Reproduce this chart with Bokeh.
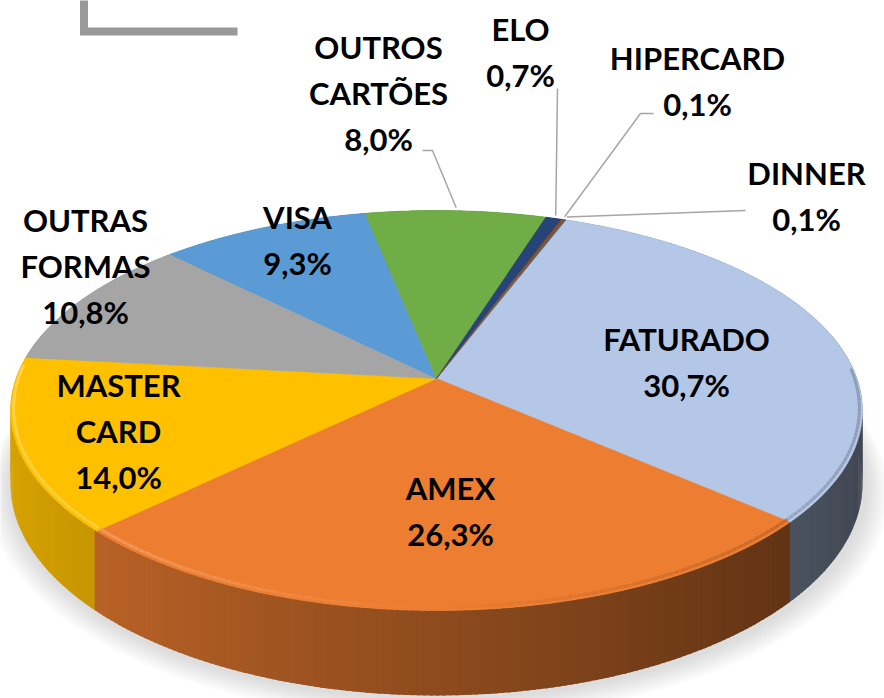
import numpy as np
from bokeh.plotting import figure
from bokeh.models import Range1d
from bokeh.embed import file_html
from bokeh.resources import INLINE
from bokeh.core.properties import value

# ---------------- data ----------------
categories = ["FATURADO", "AMEX", "MASTER\nCARD", "OUTRAS\nFORMAS", "VISA",
              "OUTROS\nCARTÕES", "ELO", "HIPERCARD", "DINNER"]
shares = [30.7, 26.3, 14.0, 10.8, 9.3, 8.0, 0.7, 0.1, 0.1]
colors = ["#B4C7E7", "#ED7D31", "#FFC000", "#A5A5A5", "#5B9BD5",
          "#70AD47", "#264478", "#9E480E", "#636363"]

# ---------------- layout (not data) ----------------
W, H = 884, 698
START_DEG = 20.7                      # clockwise from the back of the disc
CX, CY, D, KX, KY, KZ = 436.0, 378.0, 6.25, 2628.0, 1218.0, 446.0
LABEL_XY = [(686, 361), (450, 510), (118, 430), (85, 265), (297, 239),
            (378, 92), (520, 51), (697, 80), (806, 195)]
LINE_GAP = 46
# leader lines: label-side points (rim point is computed from the slice)
LEADERS = {5: [(422, 150), (432, 150)], 6: [(557, 88)],
           7: [(653, 113), (640, 113)], 8: [(745, 210)]}
FONT = "Lato"
FONT_SIZE = "31px"


def proj(theta_deg, r=1.0, h=0.0):
    t = np.radians(theta_deg)
    u = r * np.sin(t)
    v = -r * np.cos(t)
    den = D - v
    return CX + KX * u / den, CY + (KY * v + KZ * h) / den


def to_rgb(c):
    c = c.lstrip("#")
    return np.array([int(c[i:i + 2], 16) for i in (0, 2, 4)], dtype=float)


def to_hex(a):
    a = np.clip(np.round(a), 0, 255).astype(int)
    return "#%02x%02x%02x" % tuple(a)


def mix(c, other, w):
    return to_hex(to_rgb(c) * (1 - w) + to_rgb(other) * w)


total = sum(shares)
bounds = []
a = START_DEG
for s in shares:
    b = a + 360.0 * s / total
    bounds.append((a, b))
    a = b

p = figure(width=W, height=H, x_range=Range1d(0, W), y_range=Range1d(H, 0),
           output_backend="svg", toolbar_location=None, min_border=0,
           x_axis_location=None, y_axis_location=None,
           background_fill_color="white", border_fill_color="white")
p.outline_line_color = None
p.grid.visible = False

# decorative frame fragment (top-left)
p.line([83.5, 83.5, 237], [-5, 31, 31], line_width=8, line_color="#999999",
       line_join="miter")

# soft shadow
th_all = np.linspace(0, 360, 361)
for k in range(9, 0, -1):
    sx, sy = proj(th_all, r=1.0 + 0.006 * k, h=1.0)
    p.patch(sx + 2, sy + 2 + 0.6 * k, fill_color="#808080", fill_alpha=0.035,
            line_color=None)

# side faces (small overlapping quads, shaded by facing direction)
quads = []
STEP = 0.75
for (a0, a1), c in zip(bounds, colors):
    n = max(2, int(np.ceil((a1 - a0) / STEP)) + 1)
    ts = np.linspace(a0, a1, n)
    for t1, t2 in zip(ts[:-1], ts[1:]):
        t2e = t2 + 0.4
        x1, y1 = proj(t1)
        x2, y2 = proj(t2e)
        x3, y3 = proj(t2e, h=1.0)
        x4, y4 = proj(t1, h=1.0)
        tm = 0.5 * (t1 + t2)
        u = np.sin(np.radians(tm))
        v = -np.cos(np.radians(tm))
        f = 0.6 - 0.25 * u
        col = mix(c, "#000000", 1 - f)
        quads.append((v, [x1, x2, x3, x4], [y1, y2, y3, y4], col))
quads.sort(key=lambda q: q[0])
p.patches([q[1] for q in quads], [q[2] for q in quads],
          fill_color=[q[3] for q in quads], line_color=None)

# top faces
for (a0, a1), c in zip(bounds, colors):
    n = max(3, int(np.ceil((a1 - a0) / 0.5)) + 1)
    ts = np.linspace(a0, a1, n)
    px, py = proj(ts)
    p.patch([CX] + list(px), [CY] + list(py), fill_color=c, line_color=c,
            line_width=0.6)

# rim bevel
seg_x, seg_y, seg_c = [], [], []
for (a0, a1), c in zip(bounds, colors):
    n = max(2, int(np.ceil((a1 - a0) / 1.0)) + 1)
    ts = np.linspace(a0, a1, n)
    for t1, t2 in zip(ts[:-1], ts[1:]):
        tm = 0.5 * (t1 + t2)
        u = np.sin(np.radians(tm))
        v = -np.cos(np.radians(tm))
        if v < -0.05:
            continue
        x1, y1 = proj(t1, r=0.993)
        x2, y2 = proj(t2 + 0.3, r=0.993)
        g = -u
        col = mix(c, "#ffffff", 0.35 * g) if g > 0 else mix(c, "#000000", 0.25 * (-g))
        seg_x.append([x1, x2])
        seg_y.append([y1 - 1.5, y2 - 1.5])
        seg_c.append(col)
p.multi_line(seg_x, seg_y, line_color=seg_c, line_width=3, line_alpha=0.75)

# leader lines
for i, pts in LEADERS.items():
    a0, a1 = bounds[i]
    rx, ry = proj(0.5 * (a0 + a1), r=1.02)
    xs = [q[0] for q in pts] + [float(rx)]
    ys = [q[1] for q in pts] + [float(ry)]
    p.line(xs, ys, line_color="#A6A6A6", line_width=1.5)

# labels
tx, ty, tt = [], [], []
for name, s, (lx, ly) in zip(categories, shares, LABEL_XY):
    lines = name.split("\n") + [("%.1f%%" % s).replace(".", ",")]
    n = len(lines)
    for j, ln in enumerate(lines):
        tx.append(lx)
        ty.append(ly + (j - (n - 1) / 2) * LINE_GAP)
        tt.append(ln)
p.text(tx, ty, text=tt, text_font=value(FONT), text_font_style="bold",
       text_font_size=FONT_SIZE, text_align="center", text_baseline="middle",
       text_color="#000000")

open("out.html", "w").write(file_html(p, INLINE))
